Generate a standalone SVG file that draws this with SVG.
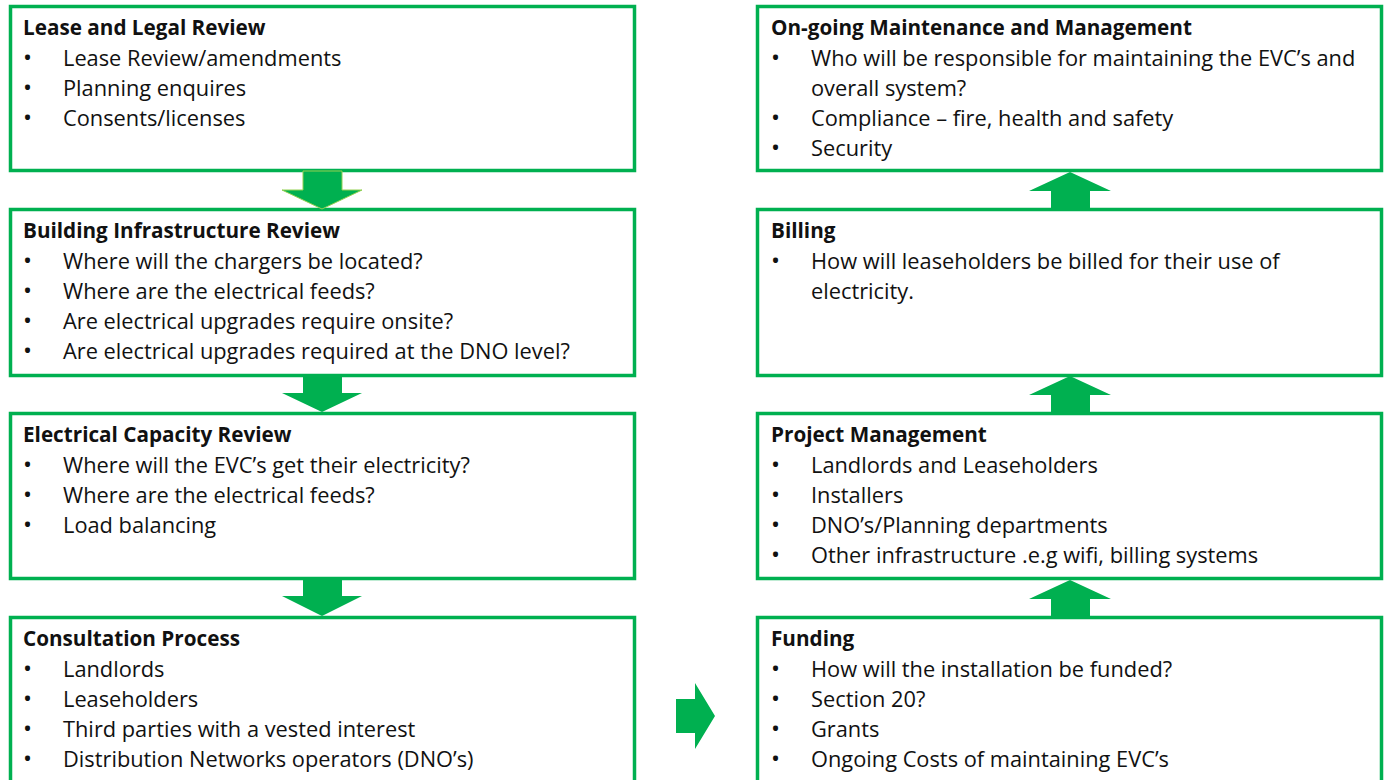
<svg xmlns="http://www.w3.org/2000/svg" width="1389" height="780" viewBox="0 0 1389 780">
<style>
.box{fill:#fff;stroke:#00B050;stroke-width:3.5}
.arr{fill:#00B050}
text{font-family:"Open Sans","Noto Sans","Liberation Sans",sans-serif;font-size:21.8px;fill:#111}
.t{font-weight:bold;font-size:20.7px}
.b{font-size:24px}
</style>
<rect width="1389" height="780" fill="#fff"/>
<g id="n1"><rect class="box" x="10.5" y="6.5" width="624" height="164"/>
<text class="t" x="23" y="35">Lease and Legal Review</text>
<text class="b" x="23" y="66">•</text><text x="63" y="66">Lease Review/amendments</text>
<text class="b" x="23" y="96">•</text><text x="63" y="96">Planning enquires</text>
<text class="b" x="23" y="126">•</text><text x="63" y="126">Consents/licenses</text></g>
<g id="n2"><rect class="box" x="10.5" y="209.5" width="624" height="166"/>
<text class="t" x="23" y="238">Building Infrastructure Review</text>
<text class="b" x="23" y="269">•</text><text x="63" y="269">Where will the chargers be located?</text>
<text class="b" x="23" y="299">•</text><text x="63" y="299">Where are the electrical feeds?</text>
<text class="b" x="23" y="329">•</text><text x="63" y="329">Are electrical upgrades require onsite?</text>
<text class="b" x="23" y="359">•</text><text x="63" y="359">Are electrical upgrades required at the DNO level?</text></g>
<g id="n3"><rect class="box" x="10.5" y="413.5" width="624" height="165"/>
<text class="t" x="23" y="442">Electrical Capacity Review</text>
<text class="b" x="23" y="473">•</text><text x="63" y="473">Where will the EVC’s get their electricity?</text>
<text class="b" x="23" y="503">•</text><text x="63" y="503">Where are the electrical feeds?</text>
<text class="b" x="23" y="533">•</text><text x="63" y="533">Load balancing</text></g>
<g id="n4"><rect class="box" x="10.5" y="617.5" width="624" height="200"/>
<text class="t" x="23" y="646">Consultation Process</text>
<text class="b" x="23" y="677">•</text><text x="63" y="677">Landlords</text>
<text class="b" x="23" y="707">•</text><text x="63" y="707">Leaseholders</text>
<text class="b" x="23" y="737">•</text><text x="63" y="737">Third parties with a vested interest</text>
<text class="b" x="23" y="767">•</text><text x="63" y="767">Distribution Networks operators (DNO’s)</text></g>
<g id="n5"><rect class="box" x="757.5" y="6.5" width="624" height="164"/>
<text class="t" x="771" y="35">On-going Maintenance and Management</text>
<text class="b" x="771" y="66">•</text><text x="811" y="66">Who will be responsible for maintaining the EVC’s and</text>
<text x="811" y="96">overall system?</text>
<text class="b" x="771" y="126">•</text><text x="811" y="126">Compliance – fire, health and safety</text>
<text class="b" x="771" y="156">•</text><text x="811" y="156">Security</text></g>
<g id="n6"><rect class="box" x="757.5" y="209.5" width="624" height="166"/>
<text class="t" x="771" y="238">Billing</text>
<text class="b" x="771" y="269">•</text><text x="811" y="269">How will leaseholders be billed for their use of</text>
<text x="811" y="299">electricity.</text></g>
<g id="n7"><rect class="box" x="757.5" y="413.5" width="624" height="165"/>
<text class="t" x="771" y="442">Project Management</text>
<text class="b" x="771" y="473">•</text><text x="811" y="473">Landlords and Leaseholders</text>
<text class="b" x="771" y="503">•</text><text x="811" y="503">Installers</text>
<text class="b" x="771" y="533">•</text><text x="811" y="533">DNO’s/Planning departments</text>
<text class="b" x="771" y="563">•</text><text x="811" y="563">Other infrastructure .e.g wifi, billing systems</text></g>
<g id="n8"><rect class="box" x="757.5" y="617.5" width="624" height="200"/>
<text class="t" x="771" y="646">Funding</text>
<text class="b" x="771" y="677">•</text><text x="811" y="677">How will the installation be funded?</text>
<text class="b" x="771" y="707">•</text><text x="811" y="707">Section 20?</text>
<text class="b" x="771" y="737">•</text><text x="811" y="737">Grants</text>
<text class="b" x="771" y="767">•</text><text x="811" y="767">Ongoing Costs of maintaining EVC’s</text></g>
<g id="connectors">
<polygon class="arr" stroke="#92D050" stroke-width="1" points="303,171 342,171 342,190 362,190 322,209 282,190 303,190"/>
<polygon class="arr" points="303,376 342,376 342,393 362,393 322,412 282,393 303,393"/>
<polygon class="arr" points="303,580 342,580 342,596 362,596 322,616 282,596 303,596"/>
<polygon class="arr" points="1051,209 1090,209 1090,191 1111,191 1070,172 1029,191 1051,191"/>
<polygon class="arr" points="1051,413 1090,413 1090,395 1111,395 1070,376 1029,395 1051,395"/>
<polygon class="arr" points="1051,617 1090,617 1090,599 1111,599 1070,580 1029,599 1051,599"/>
<polygon class="arr" points="676,699 695,699 695,683 715,716 695,749 695,733 676,733"/>
</g>
</svg>
